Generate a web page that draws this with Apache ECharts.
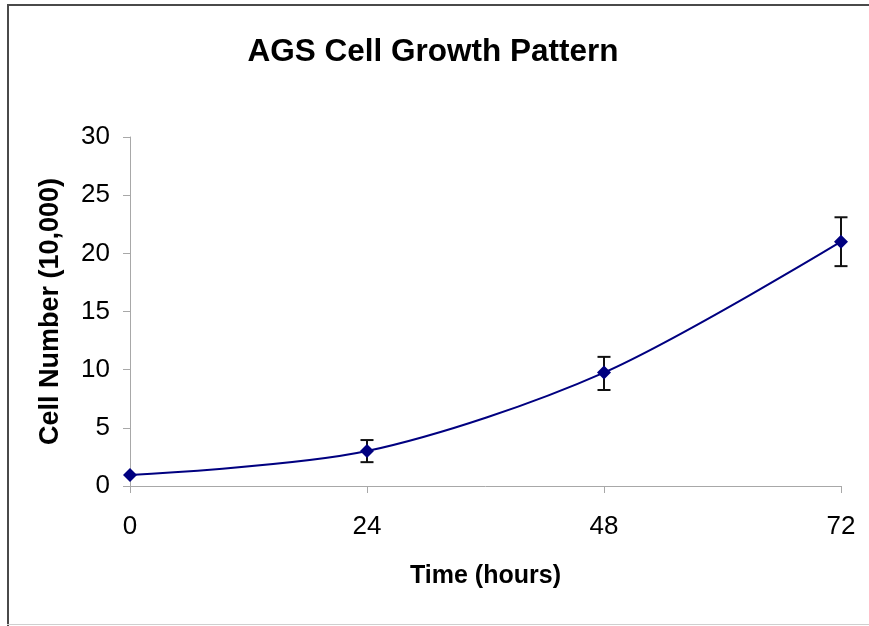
<!DOCTYPE html>
<html>
<head>
<meta charset="utf-8">
<script src="https://cdn.jsdelivr.net/npm/echarts@6/dist/echarts.min.js"></script>
<style>
html,body{margin:0;padding:0;background:#fff;}
#chart{width:869px;height:626px;}
</style>
</head>
<body>
<div id="chart"></div>
<script>
var hours = [0, 24, 48, 72];
var cellNumber = [0.95, 3.0, 9.75, 21.0];
var errLow = [0.95, 2.05, 8.25, 18.9];
var errHigh = [0.95, 3.95, 11.1, 23.1];
var xTicks = [0, 24, 48, 72];
var yTicks = [0, 5, 10, 15, 20, 25, 30];

var chart = echarts.init(document.getElementById('chart'));
var font = '"Liberation Sans", Arial, sans-serif';

var lineData = hours.map(function (h, i) { return [h, cellNumber[i]]; });
var errData = hours.map(function (h, i) { return [h, errLow[i], errHigh[i]]; });

chart.setOption({
  animation: false,
  backgroundColor: '#ffffff',
  title: {
    text: 'AGS Cell Growth Pattern',
    left: 428,
    textAlign: 'center',
    top: 31,
    textStyle: { fontFamily: font, fontSize: 31.5, fontWeight: 'bold', color: '#000' }
  },
  graphic: [
    { type: 'line', shape: { x1: 7, y1: 5, x2: 869, y2: 5 }, style: { stroke: '#4a4a4a', lineWidth: 2 } },
    { type: 'line', shape: { x1: 8, y1: 4, x2: 8, y2: 626 }, style: { stroke: '#4a4a4a', lineWidth: 2 } },
    { type: 'line', shape: { x1: 7, y1: 624.5, x2: 869, y2: 624.5 }, style: { stroke: '#cfcfcf', lineWidth: 1 } }
  ],
  grid: { left: 130, right: 28, top: 137, bottom: 140, containLabel: false },
  xAxis: {
    type: 'value',
    min: 0, max: 72, interval: 24,
    name: 'Time (hours)',
    nameLocation: 'middle',
    nameGap: 78,
    nameTextStyle: { fontFamily: font, fontSize: 25, fontWeight: 'bold', color: '#000' },
    axisLine: { show: true, lineStyle: { color: '#a8a8a8', width: 1 } },
    axisTick: { show: true, length: 7, lineStyle: { color: '#a8a8a8' } },
    axisLabel: {
      fontFamily: font, fontSize: 26, color: '#000', margin: 28,
      formatter: function (v) { return xTicks.indexOf(v) >= 0 ? String(v) : ''; }
    },
    splitLine: { show: false }
  },
  yAxis: {
    type: 'value',
    min: 0, max: 30, interval: 5,
    name: 'Cell Number (10,000)',
    nameLocation: 'middle',
    nameGap: 66,
    nameTextStyle: { fontFamily: font, fontSize: 27, fontWeight: 'bold', color: '#000' },
    axisLine: { show: true, lineStyle: { color: '#a8a8a8', width: 1 } },
    axisTick: { show: true, length: 7, lineStyle: { color: '#a8a8a8' } },
    axisLabel: {
      fontFamily: font, fontSize: 26, color: '#000', margin: 20,
      formatter: function (v) { return yTicks.indexOf(v) >= 0 ? String(v) : ''; }
    },
    splitLine: { show: false }
  },
  series: [
    {
      type: 'custom',
      z: 3,
      data: errData,
      renderItem: function (params, api) {
        var x = api.value(0);
        var lo = api.coord([x, api.value(1)]);
        var hi = api.coord([x, api.value(2)]);
        if (Math.abs(hi[1] - lo[1]) < 1) return null;
        var w = 6.5;
        var st = { stroke: '#111', lineWidth: 2 };
        return {
          type: 'group',
          children: [
            { type: 'line', shape: { x1: lo[0], y1: lo[1], x2: hi[0], y2: hi[1] }, style: st },
            { type: 'line', shape: { x1: lo[0] - w, y1: lo[1], x2: lo[0] + w, y2: lo[1] }, style: st },
            { type: 'line', shape: { x1: hi[0] - w, y1: hi[1], x2: hi[0] + w, y2: hi[1] }, style: st }
          ]
        };
      }
    },
    {
      type: 'line',
      z: 4,
      data: lineData,
      smooth: 0.3,
      symbol: 'diamond',
      symbolSize: 14,
      lineStyle: { color: '#000080', width: 2 },
      itemStyle: { color: '#000080' }
    }
  ]
});
</script>
</body>
</html>
